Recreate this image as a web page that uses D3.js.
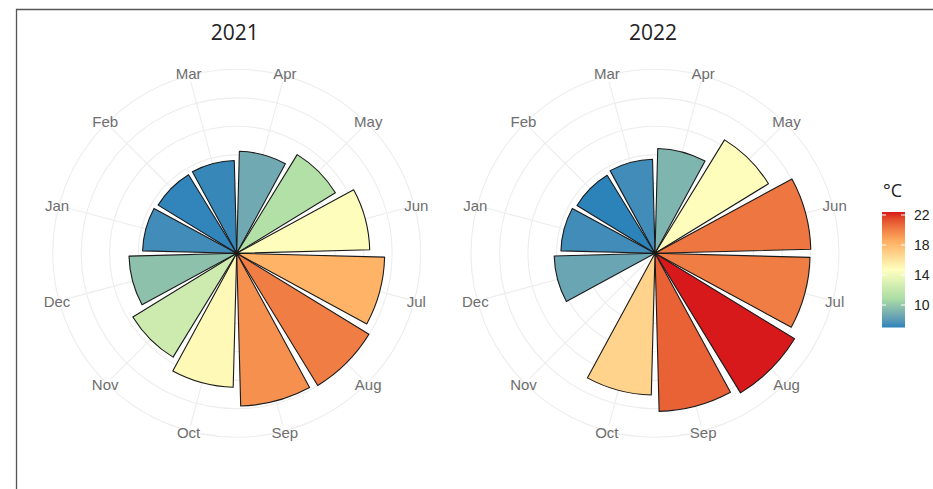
<!DOCTYPE html>
<html>
<head>
  <meta charset="UTF-8">
  <style>
    body {
      margin: 0;
      background: #fff;
      font-family: 'Liberation Sans', Arial, sans-serif;
    }
    .month-label {
      fill: #6e6e6e;
      font-size: 15px;
    }
    .year-title {
      font-family: 'Open Sans', sans-serif;
      font-size: 21px;
      fill: #222;
    }
    .legend-label {
      fill: #222;
      font-size: 14px;
    }
  </style>
  <script src="https://d3js.org/d3.v7.min.js"></script>
</head>
<body>
<div id="chart"></div>
<script>
// monthly mean temperature (°C)
const months = ['Jan', 'Feb', 'Mar', 'Apr', 'May', 'Jun', 'Jul', 'Aug', 'Sep', 'Oct', 'Nov', 'Dec'];
const temps2021 = [7.4, 7.1, 7.2, 8.7, 11.2, 14.8, 18.3, 20.1, 19.5, 15.0, 12.4, 9.7];
const temps2022 = [7.4, 7.0, 7.4, 9.2, 14.8, 20.3, 20.1, 22.4, 20.9, 16.8, null, 8.5];
const years = ['2021', '2022'];
const legendTicks = [10, 14, 18, 22];
// radial grid circles (same units as the bars, sqrt radius)
const radialTicks = [1.45, 4.1, 8.1, 13.5, 20.2, 28.3];
const palette = ['#2b83ba', '#abdda4', '#ffffbf', '#fdae61', '#d7191c'];

const width = 933, height = 489;
const svg = d3.select('#chart').append('svg')
  .attr('width', width)
  .attr('height', height);

// frame
svg.append('path')
  .attr('d', `M16.5,${height} V9.5 H${width}`)
  .attr('fill', 'none')
  .attr('stroke', '#555')
  .attr('stroke-width', 1.3);

const allTemps = temps2021.concat(temps2022).filter(t => t != null);
const tMin = d3.min(allTemps), tMax = d3.max(allTemps);

const color = d3.scaleLinear()
  .domain(d3.range(5).map(i => tMin + i * (tMax - tMin) / 4))
  .range(palette)
  .interpolate(d3.interpolateLab);

const x = d3.scaleBand()
  .domain(months)
  .range([-Math.PI / 2, 3 * Math.PI / 2])
  .paddingInner(0.1)
  .paddingOuter(0.05);

// bar area grows with temperature
const r = d3.scaleSqrt()
  .domain([0, 28.3])
  .range([0, 184]);

const arc = d3.arc()
  .innerRadius(0)
  .outerRadius(d => r(d.t))
  .startAngle(d => x(d.m))
  .endAngle(d => x(d.m) + x.bandwidth());

const centers = [[236.7, 253.3], [655, 253.3]];
const series = [temps2021, temps2022];

series.forEach((temps, k) => {
  const [cx, cy] = centers[k];
  const g = svg.append('g').attr('transform', `translate(${cx},${cy})`);

  g.selectAll('circle.grid')
    .data(radialTicks)
    .join('circle')
    .attr('class', 'grid')
    .attr('r', d => r(d))
    .attr('fill', 'none')
    .attr('stroke', '#ededed')
    .attr('stroke-width', 1.1);

  const mid = m => x(m) + x.bandwidth() / 2;

  g.selectAll('line.spoke')
    .data(months)
    .join('line')
    .attr('class', 'spoke')
    .attr('x1', 0).attr('y1', 0)
    .attr('x2', m => 178 * Math.sin(mid(m)))
    .attr('y2', m => -178 * Math.cos(mid(m)))
    .attr('stroke', '#ededed')
    .attr('stroke-width', 1.1);

  const data = months.map((m, i) => ({ m, t: temps[i] })).filter(d => d.t != null);

  g.selectAll('path.bar')
    .data(data)
    .join('path')
    .attr('class', 'bar')
    .attr('d', arc)
    .attr('fill', d => color(d.t))
    .attr('stroke', '#1a1a1a')
    .attr('stroke-width', 1.1)
    .attr('stroke-linejoin', 'round');

  g.selectAll('text.month-label')
    .data(months)
    .join('text')
    .attr('class', 'month-label')
    .attr('x', m => 186 * Math.sin(mid(m)))
    .attr('y', m => -186 * Math.cos(mid(m)))
    .attr('text-anchor', 'middle')
    .attr('dominant-baseline', 'central')
    .text(m => m);

  svg.append('text')
    .attr('class', 'year-title')
    .attr('x', cx - 2)
    .attr('y', 40)
    .attr('text-anchor', 'middle')
    .text(years[k]);
});

// colour bar legend
const ly = d3.scaleLinear().domain([10, 22]).range([305, 215]);
const grad = svg.append('defs').append('linearGradient')
  .attr('id', 'temp-grad')
  .attr('x1', 0).attr('y1', 1).attr('x2', 0).attr('y2', 0);
d3.range(0, 1.0001, 0.05).forEach(f => {
  grad.append('stop')
    .attr('offset', f)
    .attr('stop-color', color(tMin + f * (tMax - tMin)));
});

const barX = 882, barW = 23;
svg.append('rect')
  .attr('x', barX)
  .attr('y', ly(tMax))
  .attr('width', barW)
  .attr('height', ly(tMin) - ly(tMax))
  .attr('fill', 'url(#temp-grad)');

legendTicks.forEach(t => {
  [[barX, barX + 4], [barX + barW - 4, barX + barW]].forEach(([a, b]) => {
    svg.append('line')
      .attr('x1', a).attr('x2', b)
      .attr('y1', ly(t)).attr('y2', ly(t))
      .attr('stroke', '#fff')
      .attr('stroke-width', 1);
  });
  svg.append('text')
    .attr('class', 'legend-label')
    .attr('x', 914)
    .attr('y', ly(t))
    .attr('dominant-baseline', 'central')
    .text(t);
});

svg.append('text')
  .attr('x', 883)
  .attr('y', 197)
  .attr('font-family', "'Open Sans', sans-serif")
  .attr('font-size', 18)
  .attr('fill', '#222')
  .text('°C');
</script>
</body>
</html>
